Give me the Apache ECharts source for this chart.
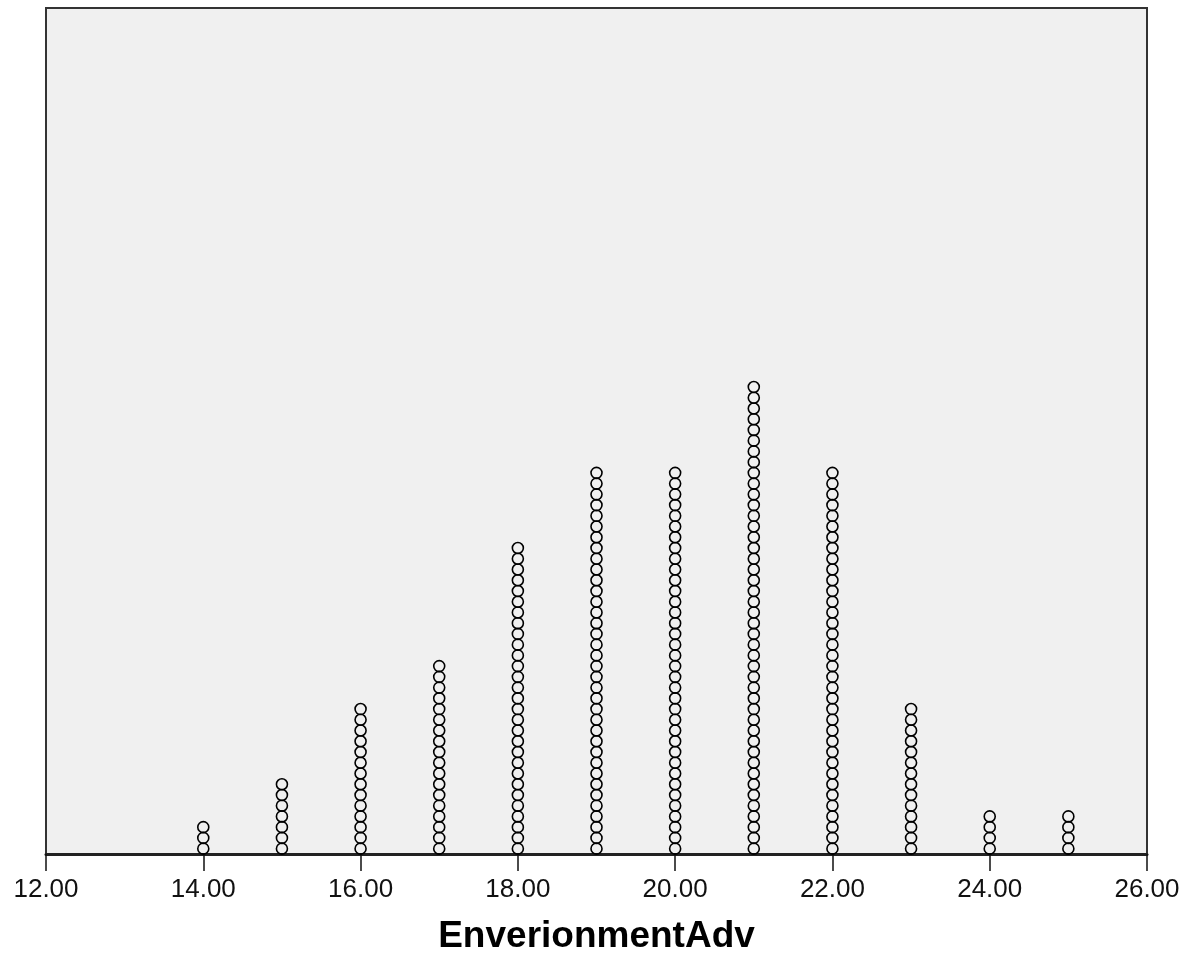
<!DOCTYPE html>
<html>
<head>
<meta charset="utf-8">
<script src="https://cdn.jsdelivr.net/npm/echarts@6/dist/echarts.min.js"></script>
<style>
html,body{margin:0;padding:0;background:#fff;}
#chart{width:1197px;height:960px;}
</style>
</head>
<body>
<div id="chart"></div>
<script>
// Data
const values = [14, 15, 16, 17, 18, 19, 20, 21, 22, 23, 24, 25];
const counts = [3, 7, 14, 18, 29, 36, 36, 44, 36, 14, 4, 4];
const xTicks = [12, 14, 16, 18, 20, 22, 24, 26];
const axisTitle = 'EnverionmentAdv';

const dots = [];
values.forEach((v, i) => {
  for (let k = 0; k < counts[i]; k++) dots.push([v, k + 0.5]);
});

const chart = echarts.init(document.getElementById('chart'), null, {renderer: 'canvas'});
chart.setOption({
  backgroundColor: '#ffffff',
  animation: false,
  grid: {
    left: 46, right: 50, top: 8, bottom: 105,
    show: true, backgroundColor: '#f0f0f0', borderColor: '#333', borderWidth: 2
  },
  xAxis: {
    type: 'value',
    min: xTicks[0], max: xTicks[xTicks.length - 1], interval: 2,
    splitLine: {show: false},
    axisLine: {show: true, lineStyle: {color: '#222', width: 3}},
    axisTick: {show: true, length: 17, lineStyle: {color: '#111', width: 1.5}},
    axisLabel: {
      color: '#111', fontSize: 26, fontFamily: 'Liberation Sans, Arial, sans-serif', margin: 23,
      formatter: v => v.toFixed(2)
    },
    name: axisTitle,
    nameLocation: 'middle',
    nameGap: 64,
    nameTextStyle: {color: '#000', fontSize: 37, fontWeight: 'bold', fontFamily: 'Liberation Sans, Arial, sans-serif'}
  },
  yAxis: {
    type: 'value', min: 0, max: 78.8,
    show: false, splitLine: {show: false}
  },
  series: [{
    type: 'scatter',
    data: dots,
    symbol: 'circle',
    symbolSize: 11,
    itemStyle: {color: 'rgba(0,0,0,0)', borderColor: '#000', borderWidth: 1.6, opacity: 1}
  }]
});
</script>
</body>
</html>
